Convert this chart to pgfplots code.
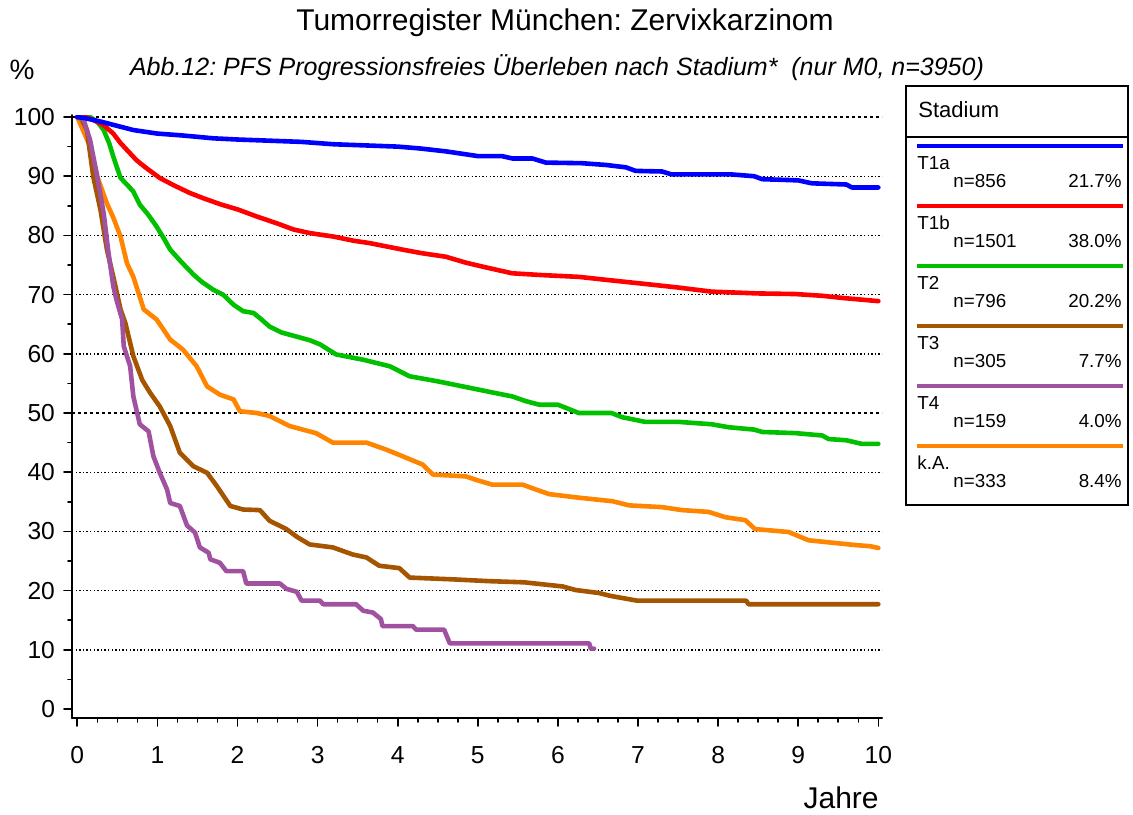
\documentclass[border=0pt]{standalone}
\usepackage{pgfplots}
\pgfplotsset{compat=1.18}
\usepackage{fontspec}
\setmainfont{Liberation Sans}
\frenchspacing
\definecolor{cT1a}{RGB}{0,0,255}
\definecolor{cT1b}{RGB}{255,0,0}
\definecolor{cT2}{RGB}{0,192,0}
\definecolor{cT3}{RGB}{165,85,0}
\definecolor{cT4}{RGB}{160,82,160}
\definecolor{cKA}{RGB}{255,133,0}
\begin{document}
\begin{tikzpicture}
\begin{scope}[x=0.5pt,y=-0.5pt]
\path[use as bounding box] (0,0) rectangle (1133,814);
% grid
\foreach \v in {10,20,30,40,60,70,80,90}
  \draw[line width=0.7pt, dash pattern=on 0.7pt off 1.1pt] (72,{709-5.92*\v}) -- (882,{709-5.92*\v});
\foreach \v in {50,100}
  \draw[line width=1.3pt, dash pattern=on 1.3pt off 1.7pt] (72,{709-5.92*\v}) -- (882,{709-5.92*\v});
% titles
\node[anchor=base] at (565,30) {\fontsize{15}{18}\selectfont Tumorregister München: Zervixkarzinom};
\node[anchor=base] at (22,79) {\fontsize{14}{17}\selectfont \%};
\node[anchor=base] at (557,75) {\fontsize{12.5}{15}\selectfont\itshape Abb.12: PFS Progressionsfreies Überleben nach Stadium*\ \ (nur M0, n=3950)};
\node[anchor=base east,inner sep=0pt] at (879,808) {\fontsize{15}{18}\selectfont Jahre};
% legend
\draw[line width=0.8pt] (906,86) rectangle (1128,505);
\draw[line width=0.8pt] (906,137) -- (1128,137);
\node[anchor=base west,inner sep=0pt] at (918,117) {\fontsize{11}{13}\selectfont Stadium};
\foreach \c/\lab/\n/\p [count=\i from 0] in {cT1a/T1a/856/21.7,cT1b/T1b/1501/38.0,cT2/T2/796/20.2,cT3/T3/305/7.7,cT4/T4/159/4.0,cKA/k.A./333/8.4} {
  \draw[\c, line width=2pt] (917,{146+60*\i}) -- (1123,{146+60*\i});
  \node[anchor=base west,inner sep=0pt] at (917,{169+60*\i}) {\fontsize{9.4}{11}\selectfont \lab};
  \node[anchor=base west,inner sep=0pt] at (953,{187+60*\i}) {\fontsize{9.4}{11}\selectfont n=\n};
  \node[anchor=base east,inner sep=0pt] at (1122,{187+60*\i}) {\fontsize{9.4}{11}\selectfont \p\%};
}
\end{scope}
\begin{axis}[
  at={(36pt,-359pt)}, anchor=south west,
  scale only axis, width=405pt, height=301.5pt,
  xmin=-0.066, xmax=10.046, ymin=-1.52, ymax=100.34,
  axis x line*=bottom, axis y line*=left,
  axis line style={line width=1pt, -},
  xtick={0,1,...,10}, minor x tick num=3,
  ytick={0,10,...,100}, minor y tick num=1,
  tick style={black, line width=0.8pt},
  major tick length=4pt, minor tick length=2pt,
  tick align=outside,
  /pgf/number format/assume math mode=true,
  ticklabel style={font=\fontsize{12.3}{14}\selectfont},
  yticklabel style={anchor=east, xshift=-1pt},
  xticklabel style={anchor=north, yshift=-6.5pt},
  line join=round, line cap=round,
]
\addplot[cKA, line width=2.3pt] coordinates {
(0,100) (0.08,97.5) (0.16,95) (0.25,89.9) (0.37,85.4) (0.45,83.0) (0.54,79.8) (0.62,75.3) (0.70,73.0) (0.83,67.5) (0.99,65.8) (1.08,64.0) (1.16,62.4) (1.32,60.7) (1.49,57.9) (1.62,54.5) (1.78,53.1) (1.95,52.3) (2.03,50.3) (2.24,50.0) (2.40,49.5) (2.65,47.8) (2.98,46.6) (3.19,45.0) (3.61,45.0) (3.86,43.8) (4.06,42.7) (4.31,41.3) (4.44,39.6) (4.85,39.3) (4.98,38.7) (5.18,37.9) (5.56,37.9) (5.68,37.3) (5.89,36.3) (6.26,35.7) (6.68,35.1) (6.89,34.4) (7.30,34.1) (7.55,33.6) (7.88,33.3) (8.09,32.4) (8.34,31.9) (8.46,30.4) (8.88,29.9) (9.13,28.5) (9.42,28.1) (9.71,27.7) (9.9,27.5) (10,27.2)
};
\addplot[cT3, line width=2.3pt] coordinates {
(0,100) (0.04,100) (0.12,97.8) (0.2,89.9) (0.29,84.3) (0.37,77.6) (0.45,73.0) (0.54,67.5) (0.60,65.2) (0.70,59.6) (0.81,55.6) (0.91,53.4) (1.03,51.1) (1.16,47.8) (1.28,43.3) (1.45,41.0) (1.62,39.9) (1.74,37.7) (1.91,34.3) (2.07,33.7) (2.28,33.6) (2.40,31.8) (2.61,30.4) (2.74,29.1) (2.90,27.8) (3.19,27.3) (3.44,26.1) (3.61,25.6) (3.77,24.2) (4.02,23.8) (4.15,22.2) (4.69,21.9) (5.14,21.6) (5.58,21.4) (6.06,20.7) (6.22,20.1) (6.51,19.6) (6.66,19.1) (6.99,18.3) (8.35,18.3) (8.38,17.7) (10,17.7)
};
\addplot[cT4, line width=2.3pt] coordinates {
(0,100) (0.08,99.5) (0.16,96.1) (0.25,89.9) (0.33,83.7) (0.39,77.0) (0.45,71.4) (0.49,69.1) (0.56,65.8) (0.58,61.3) (0.66,57.9) (0.70,52.8) (0.78,48.1) (0.89,46.9) (0.95,42.7) (1.03,39.9) (1.12,37.1) (1.16,34.8) (1.28,34.3) (1.37,31.0) (1.47,29.8) (1.53,27.3) (1.64,26.4) (1.66,25.3) (1.78,24.7) (1.86,23.3) (2.07,23.3) (2.11,21.2) (2.53,21.2) (2.61,20.3) (2.74,19.8) (2.80,18.3) (3.03,18.3) (3.07,17.7) (3.48,17.7) (3.57,16.6) (3.69,16.3) (3.79,15.2) (3.81,14.0) (4.19,14.0) (4.23,13.4) (4.58,13.4) (4.65,11.1) (6.39,11.1) (6.41,10.2) (6.45,10.2)
};
\addplot[cT2, line width=2.3pt] coordinates {
(0,100) (0.16,100) (0.25,99.2) (0.33,97.8) (0.4,95.5) (0.45,93.3) (0.54,89.7) (0.62,88.6) (0.70,87.4) (0.78,85.2) (0.88,83.6) (0.99,81.5) (1.08,79.5) (1.16,77.6) (1.3,75.5) (1.45,73.4) (1.55,72.2) (1.70,70.8) (1.82,70.0) (1.95,68.3) (2.07,67.2) (2.2,66.9) (2.30,65.8) (2.40,64.6) (2.55,63.6) (2.74,62.9) (2.9,62.3) (3.03,61.6) (3.23,59.9) (3.57,59.0) (3.90,57.9) (4.15,56.2) (4.48,55.4) (4.81,54.5) (5.1,53.7) (5.43,52.8) (5.60,52.0) (5.77,51.4) (6.0,51.4) (6.15,50.6) (6.26,50.0) (6.67,50.0) (6.8,49.3) (7.09,48.5) (7.51,48.5) (7.92,48.1) (8.13,47.6) (8.45,47.2) (8.55,46.8) (8.97,46.6) (9.3,46.2) (9.38,45.6) (9.6,45.4) (9.79,44.8) (10,44.8)
};
\addplot[cT1b, line width=2.3pt] coordinates {
(0,100) (0.1,100) (0.2,99.5) (0.33,98.6) (0.45,97.2) (0.54,95.6) (0.65,94.0) (0.74,92.7) (0.85,91.5) (1.03,89.7) (1.2,88.5) (1.4,87.2) (1.57,86.3) (1.8,85.2) (2.0,84.4) (2.24,83.2) (2.5,82.0) (2.7,81.0) (2.9,80.4) (3.2,79.8) (3.45,79.1) (3.65,78.7) (4.06,77.6) (4.3,77.0) (4.6,76.4) (4.85,75.4) (5.1,74.6) (5.43,73.6) (5.8,73.3) (6.26,73.0) (6.6,72.5) (7.09,71.8) (7.5,71.2) (7.92,70.5) (8.5,70.2) (8.96,70.1) (9.3,69.8) (9.58,69.4) (10,68.9)
};
\addplot[cT1a, line width=2.3pt] coordinates {
(0,100) (0.1,99.8) (0.3,99.2) (0.5,98.5) (0.7,97.8) (1.0,97.2) (1.3,96.9) (1.7,96.4) (2.0,96.2) (2.4,96.0) (2.8,95.8) (3.2,95.4) (3.6,95.2) (4.0,95.0) (4.27,94.7) (4.6,94.2) (4.8,93.8) (5.0,93.4) (5.3,93.4) (5.43,93.0) (5.68,93.0) (5.85,92.3) (6.3,92.2) (6.6,91.9) (6.85,91.5) (6.97,90.9) (7.3,90.8) (7.42,90.3) (8.17,90.3) (8.45,90.0) (8.55,89.5) (9.0,89.3) (9.17,88.8) (9.6,88.6) (9.67,88.1) (10,88.1)
};
\end{axis}
\end{tikzpicture}
\end{document}
